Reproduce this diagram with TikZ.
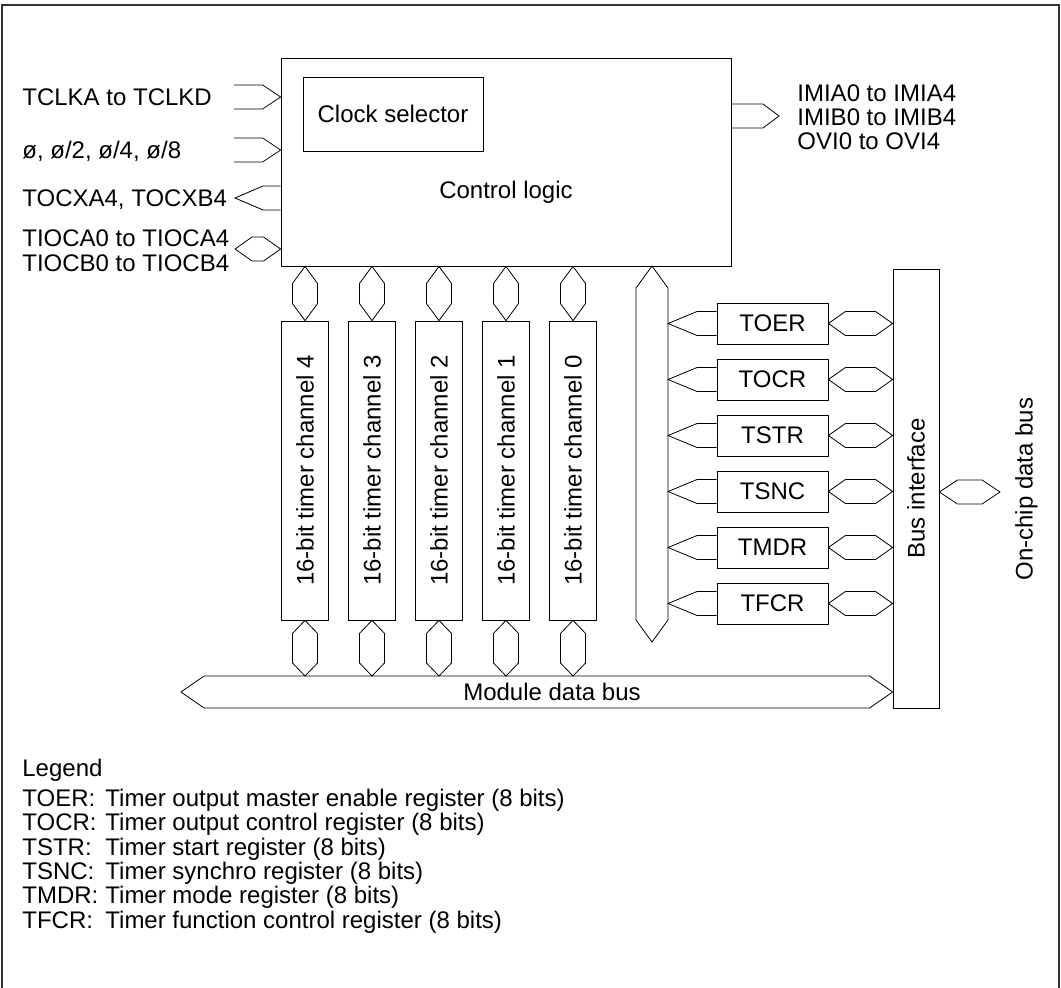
\documentclass[tikz,border=0pt]{standalone}
\usepackage{fontspec}
\setmainfont{Liberation Sans}
\usetikzlibrary{positioning, calc}

% bus shapes: vertical and horizontal double-ended, single-ended
\newcommand{\vbus}[4]{\draw (#1) -- ($(#1)+(#4,#3)$) -- ($(#2)+(#4,-#3)$) -- (#2) -- ($(#2)+(-#4,-#3)$) -- ($(#1)+(-#4,#3)$) -- cycle;}
\newcommand{\hbus}[4]{\draw (#1) -- ($(#1)+(#3,-#4)$) -- ($(#2)+(-#3,-#4)$) -- (#2) -- ($(#2)+(-#3,#4)$) -- ($(#1)+(#3,#4)$) -- cycle;}
\newcommand{\harr}[4]{\draw ($(#1)+(0,-#4)$) -- ($(#2)+(#3,-#4)$) -- (#2) -- ($(#2)+(#3,#4)$) -- ($(#1)+(0,#4)$);}

\begin{document}
\begin{tikzpicture}[
        x=1pt, y=-1pt,
        line width=0.8pt,
        font=\fontsize{24pt}{28pt}\selectfont,
        box/.style={draw, inner sep=0pt, line width=0.8pt},
        lbl/.style={inner sep=0pt, text height=17.2pt, text depth=0pt},
        frame/.style={line width=1.6pt, black!80}
    ]
        \useasboundingbox (0,0) rectangle (1061,988);
        \draw[frame] (2,995) -- (2,5) -- (1059,5) -- (1059,995);

        % control logic
        \node[box, minimum width=450pt, minimum height=208pt] (ctrl) at (506,162) {};
        \node[lbl] (ctrllbl) at (506,190) {Control logic};
        \node[box, minimum width=180pt, minimum height=74pt] (clksel) at (393,114) {};
        \node[lbl] at (clksel) {Clock selector};

        % external signals
        \node[lbl, anchor=west] (tclklbl) at (22,97) {TCLKA to TCLKD};
        \node[lbl, anchor=west] (philbl) at (22,150) {ø, ø/2, ø/4, ø/8};
        \node[lbl, anchor=west] (tocxlbl) at (22,198) {TOCXA4, TOCXB4};
        \node[lbl, anchor=west] (tiocalbl) at (22,238) {TIOCA0 to TIOCA4};
        \node[lbl, anchor=west] (tiocblbl) at (22,263) {TIOCB0 to TIOCB4};
        \node[lbl, anchor=west] (imialbl) at (797,93) {IMIA0 to IMIA4};
        \node[lbl, anchor=west] (imiblbl) at (797,117) {IMIB0 to IMIB4};
        \node[lbl, anchor=west] (ovilbl) at (797,141) {OVI0 to OVI4};

        \coordinate (tclk) at (234,97);
        \coordinate (tclktip) at (ctrl.west |- tclk);
        \harr{tclk}{tclktip}{-18}{12}
        \coordinate (phi) at (234,150);
        \coordinate (phitip) at (ctrl.west |- phi);
        \harr{phi}{phitip}{-18}{12}
        \coordinate (tocx) at (235,198);
        \coordinate (tocxend) at (ctrl.west |- tocx);
        \harr{tocxend}{tocx}{28}{12}
        \coordinate (tioc) at (235,249);
        \coordinate (tioctip) at (ctrl.west |- tioc);
        \hbus{tioc}{tioctip}{17}{12}
        \coordinate (imi) at (779,116);
        \coordinate (imiend) at (ctrl.east |- imi);
        \harr{imiend}{imi}{-16}{12}

        % bus interface and module data bus
        \node[box, minimum width=46pt, minimum height=439pt] (busif) at (916,488.5) {};
        \node[lbl, rotate=90] at (busif) {Bus interface};
        \coordinate (ocb) at (1000,492);
        \coordinate (ocl) at (busif.east |- ocb);
        \hbus{ocl}{ocb}{18}{12}
        \node[lbl, rotate=90] (onchip) at (1024,489) {On-chip data bus};

        \coordinate (mdbl) at (181,692);
        \coordinate (mdbr) at (busif.west |- mdbl);
        \coordinate (mdbtop) at (0,676);
        \hbus{mdbl}{mdbr}{23}{16}
        \node[lbl] (mdb) at (552,692) {Module data bus};

        % timer channels
        \foreach \n in {4,...,0} {
            \node[box, minimum width=47pt, minimum height=299pt] (ch\n) at ({305+67*(4-\n)},470.5) {};
            \node[lbl, rotate=90] at (ch\n) {16-bit timer channel \n};
            \coordinate (t\n) at (ch\n.north |- ctrl.south);
            \coordinate (b\n) at (ch\n.south |- mdbtop);
            \vbus{t\n}{ch\n.north}{17}{12.5}
            \vbus{ch\n.south}{b\n}{13}{12.5}
        }

        % register bus
        \coordinate (vbt) at (652,266);
        \coordinate (vbb) at (652,642);
        \vbus{vbt}{vbb}{22}{16}

        \foreach \reg [count=\i from 0] in {TOER,TOCR,TSTR,TSNC,TMDR,TFCR} {
            \node[box, minimum width=111pt, minimum height=41pt] (\reg) at (772.5,{323.5+56*\i}) {\reg};
            \coordinate (\reg-l) at (668,{323.5+56*\i});
            \coordinate (\reg-r) at (busif.west |- \reg.east);
            \harr{\reg.west}{\reg-l}{29}{12}
            \hbus{\reg.east}{\reg-r}{17}{12}
        }

        % legend
        \node[lbl, anchor=west] (legend) at (22,768) {Legend};
        \foreach \reg/\desc [count=\i from 0] in {TOER/Timer output master enable register (8 bits),
                TOCR/Timer output control register (8 bits),
                TSTR/Timer start register (8 bits),
                TSNC/Timer synchro register (8 bits),
                TMDR/Timer mode register (8 bits),
                TFCR/Timer function control register (8 bits)} {
            \node[lbl, anchor=west] (lg\i) at (22,{798+24.3*\i}) {\reg:};
            \node[lbl, anchor=west] (ld\i) at (105,{798+24.3*\i}) {\desc};
        }
    \end{tikzpicture}
\end{document}
